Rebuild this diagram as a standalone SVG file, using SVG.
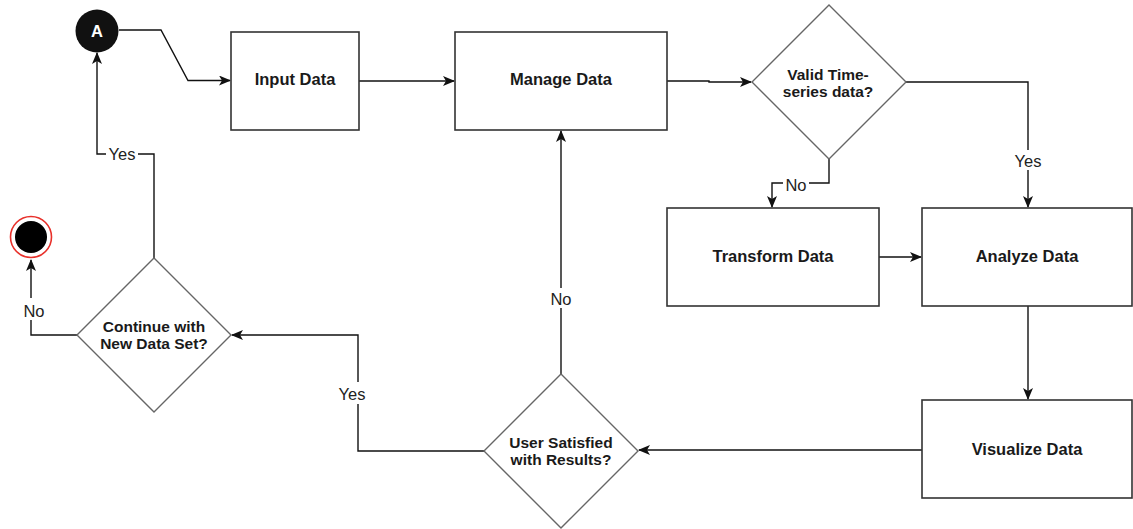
<svg xmlns="http://www.w3.org/2000/svg" width="1133" height="529" viewBox="0 0 1133 529">
  <style>
    .box { fill: #ffffff; stroke: #333333; stroke-width: 1.6; }
    .dia { fill: #ffffff; stroke: #666666; stroke-width: 1.4; }
    .edge { fill: none; stroke: #111111; stroke-width: 1.4; }
    .title { font-family: "Liberation Sans", Arial, sans-serif; font-weight: bold; font-size: 16.5px; fill: #1a1a1a; text-anchor: middle; }
    .q { font-family: "Liberation Sans", Arial, sans-serif; font-weight: bold; font-size: 15.5px; fill: #1a1a1a; text-anchor: middle; }
    .lbl { font-family: "Liberation Sans", Arial, sans-serif; font-size: 16.5px; fill: #222222; text-anchor: middle; }
    .lblbg { fill: #ffffff; }
  </style>
  <defs>
    <marker id="arrow" viewBox="0 0 12 10" markerWidth="12" markerHeight="10" refX="11" refY="5" orient="auto" markerUnits="userSpaceOnUse">
      <path d="M0,0 L12,5 L0,10 L3,5 Z" fill="#111111"/>
    </marker>
  </defs>
  <rect width="1133" height="529" fill="#ffffff"/>

  <!-- connectors -->
  <g id="connectors">
    <path class="edge" d="M119,30 H161 L188,80.5 H230" marker-end="url(#arrow)"/>
    <path class="edge" d="M359,81 H454" marker-end="url(#arrow)"/>
    <path class="edge" d="M667,81 H709 V82 H751" marker-end="url(#arrow)"/>
    <!-- Valid? Yes -->
    <path class="edge" d="M906,82 H1028 V207" marker-end="url(#arrow)"/>
    <!-- Valid? No -->
    <path class="edge" d="M829,159 V183 H772 V207" marker-end="url(#arrow)"/>
    <path class="edge" d="M879,257 H921" marker-end="url(#arrow)"/>
    <path class="edge" d="M1028,306 V399" marker-end="url(#arrow)"/>
    <path class="edge" d="M922,450 H639" marker-end="url(#arrow)"/>
    <!-- Satisfied? No -->
    <path class="edge" d="M561,374 V131" marker-end="url(#arrow)"/>
    <!-- Satisfied? Yes -->
    <path class="edge" d="M484,451 H358 V335 H232" marker-end="url(#arrow)"/>
    <!-- Continue? Yes -->
    <path class="edge" d="M154,258 V154 H97 V53" marker-end="url(#arrow)"/>
    <!-- Continue? No -->
    <path class="edge" d="M77,335 H31 V260" marker-end="url(#arrow)"/>

    <!-- edge labels -->
    <rect class="lblbg" x="1012" y="150" width="32" height="20"/>
    <text class="lbl" x="1028" y="166.5">Yes</text>
    <rect class="lblbg" x="783" y="176" width="26" height="17"/>
    <text class="lbl" x="796" y="190.5">No</text>
    <rect class="lblbg" x="548" y="288" width="26" height="20"/>
    <text class="lbl" x="561" y="305">No</text>
    <rect class="lblbg" x="336" y="382" width="32" height="22"/>
    <text class="lbl" x="352" y="400">Yes</text>
    <rect class="lblbg" x="106" y="146" width="32" height="16"/>
    <text class="lbl" x="122" y="160">Yes</text>
    <rect class="lblbg" x="20" y="298" width="28" height="22"/>
    <text class="lbl" x="34" y="316.5">No</text>
  </g>

  <!-- start connector A -->
  <g id="node-a">
    <circle cx="97" cy="31" r="21.5" fill="#111111"/>
    <text x="97" y="37" font-family="Liberation Sans, Arial, sans-serif" font-weight="bold" font-size="16.5" fill="#ffffff" text-anchor="middle">A</text>
  </g>

  <g id="node-input">
    <rect class="box" x="231" y="32" width="128" height="98"/>
    <text class="title" x="295" y="85">Input Data</text>
  </g>

  <g id="node-manage">
    <rect class="box" x="455" y="32" width="212" height="98"/>
    <text class="title" x="561" y="85">Manage Data</text>
  </g>

  <g id="node-valid">
    <polygon class="dia" points="829,5 906,82 829,159 752,82"/>
    <text class="q" x="828" y="80">Valid Time-</text>
    <text class="q" x="828" y="96.5">series data?</text>
  </g>

  <g id="node-transform">
    <rect class="box" x="667" y="208" width="212" height="98"/>
    <text class="title" x="773" y="262">Transform Data</text>
  </g>

  <g id="node-analyze">
    <rect class="box" x="922" y="208" width="210" height="98"/>
    <text class="title" x="1027" y="262">Analyze Data</text>
  </g>

  <g id="node-visualize">
    <rect class="box" x="922" y="400" width="210" height="98"/>
    <text class="title" x="1027" y="454.5">Visualize Data</text>
  </g>

  <g id="node-satisfied">
    <polygon class="dia" points="561,374 638,451 561,528 484,451"/>
    <text class="q" x="561" y="448">User Satisfied</text>
    <text class="q" x="561" y="465">with Results?</text>
  </g>

  <g id="node-continue">
    <polygon class="dia" points="154,258 231,335 154,412 77,335"/>
    <text class="q" x="154" y="332">Continue with</text>
    <text class="q" x="154" y="349">New Data Set?</text>
  </g>

  <g id="node-end">
    <circle cx="31" cy="237" r="20.5" fill="#ffffff" stroke="#e8302a" stroke-width="1.6"/>
    <circle cx="31" cy="237" r="16" fill="#000000"/>
  </g>
</svg>
